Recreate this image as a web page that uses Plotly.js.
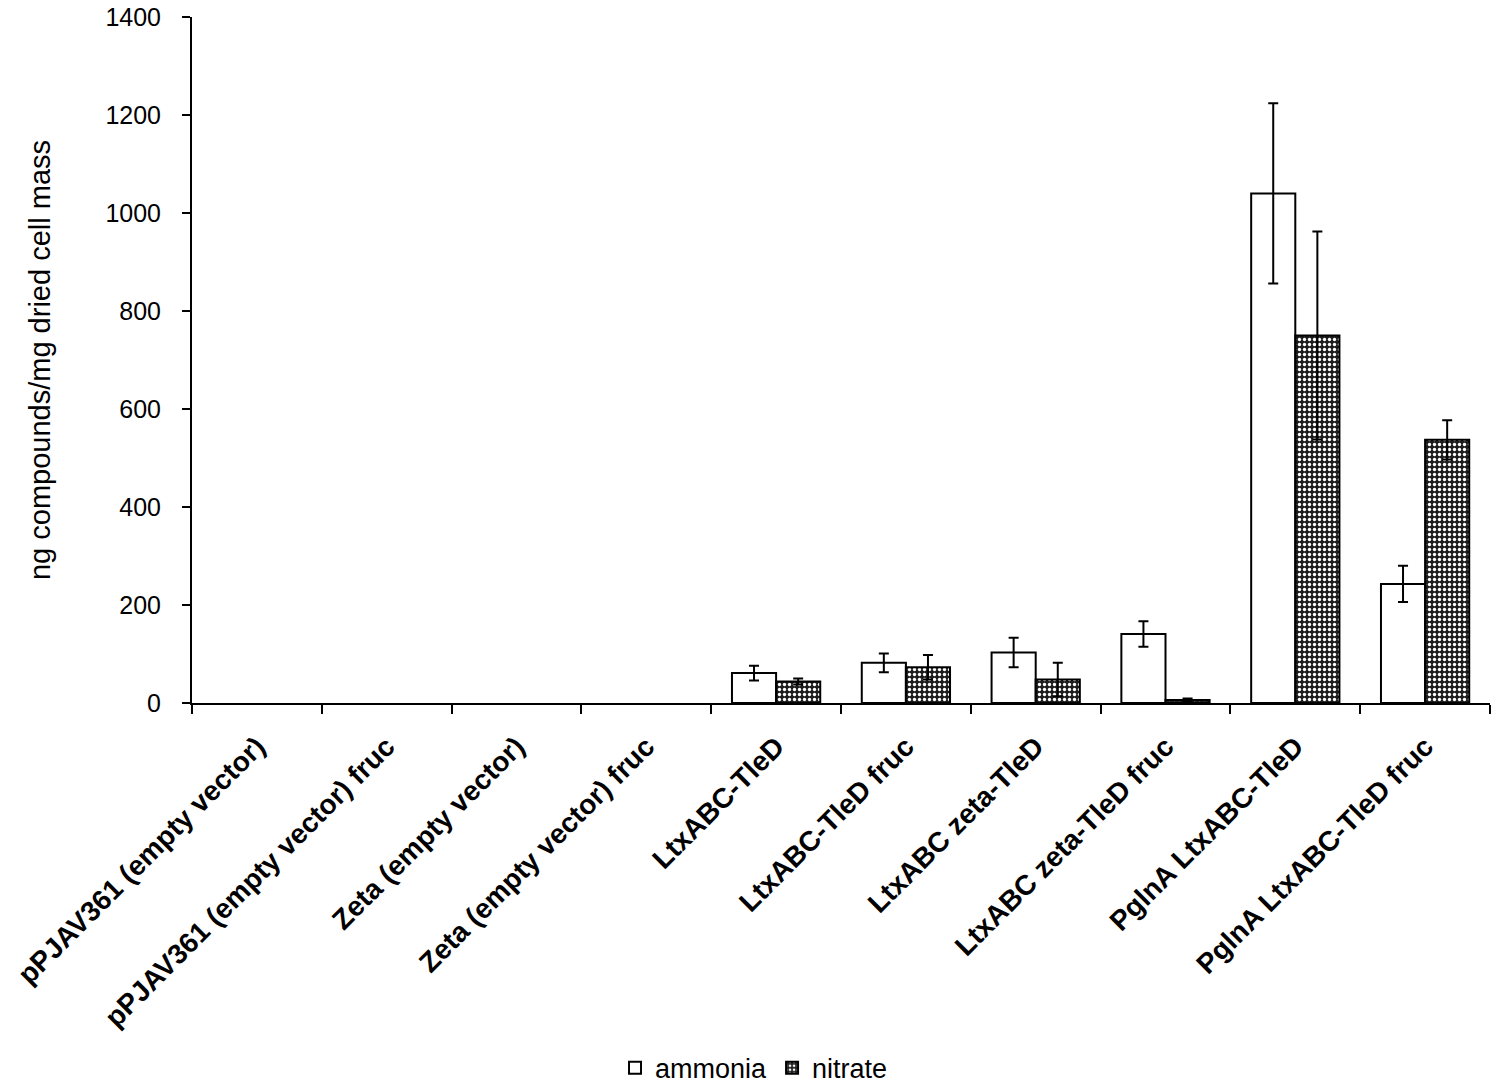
<!DOCTYPE html>
<html>
<head>
<meta charset="utf-8">
<script src="https://cdn.plot.ly/plotly-3.0.1.min.js"></script>
<style>html,body{margin:0;padding:0;background:#fff;}#chart{width:1500px;height:1090px;}</style>
</head>
<body>
<div id="chart"></div>
<script>
const categories = [
  "pPJAV361 (empty vector)",
  "pPJAV361 (empty vector) fruc",
  "Zeta (empty vector)",
  "Zeta (empty vector) fruc",
  "LtxABC-TleD",
  "LtxABC-TleD fruc",
  "LtxABC zeta-TleD",
  "LtxABC zeta-TleD fruc",
  "PglnA LtxABC-TleD",
  "PglnA LtxABC-TleD fruc"
];
const ammonia = [null, null, null, null, 61, 82, 103, 141, 1040, 243];
const ammoniaErr = [null, null, null, null, 15, 19, 30, 26, 184, 37];
const nitrate = [null, null, null, null, 44, 73, 48, 6, 750, 537];
const nitrateErr = [null, null, null, null, 6, 25, 34, 3, 212, 40];
const yTicks = [0, 200, 400, 600, 800, 1000, 1200, 1400];

const FONT = "Liberation Sans, Arial, sans-serif";

const traces = [
  {
    type: "bar", name: "ammonia", x: categories, y: ammonia,
    marker: {color: "#ffffff", line: {color: "#000000", width: 2}},
    error_y: {type: "data", array: ammoniaErr, visible: true, color: "#000000", thickness: 2, width: 5}
  },
  {
    type: "bar", name: "nitrate", x: categories, y: nitrate,
    marker: {color: "#1e1e1e", line: {color: "#000000", width: 2},
      pattern: {shape: ".", fgcolor: "#ffffff", bgcolor: "#1e1e1e", size: 5, solidity: 0.35}},
    error_y: {type: "data", array: nitrateErr, visible: true, color: "#000000", thickness: 2, width: 5}
  }
];

const layout = {
  width: 1500, height: 1090,
  margin: {l: 192, r: 10, t: 17, b: 387},
  paper_bgcolor: "#ffffff", plot_bgcolor: "#ffffff",
  font: {family: FONT, color: "#000000", size: 22},
  barmode: "group", bargap: 0.32, bargroupgap: 0,
  showlegend: true,
  legend: {orientation: "h", xref: "paper", x: 0.433, xanchor: "center",
    yref: "container", y: 0.02, yanchor: "middle",
    font: {family: FONT, size: 27, color: "#000"}, itemwidth: 30, traceorder: "normal"},
  xaxis: {
    type: "category", showline: true, linecolor: "#000", linewidth: 2,
    ticks: "outside", ticklen: 9, tickwidth: 2, tickcolor: "#000", tickson: "boundaries",
    tickangle: -45, ticklabelstandoff: 14,
    tickfont: {family: FONT, size: 28, color: "#000", weight: "bold"},
    showgrid: false, zeroline: false, automargin: false
  },
  yaxis: {
    range: [0, 1400], tickvals: yTicks, ticktext: yTicks.map(String),
    showline: true, linecolor: "#000", linewidth: 2,
    ticks: "outside", ticklen: 8, tickwidth: 2, tickcolor: "#000",
    tickfont: {family: FONT, size: 25, color: "#000"},
    ticklabelstandoff: 16,
    showgrid: false, zeroline: false, automargin: false,
    title: {text: "ng compounds/mg dried cell mass", font: {family: FONT, size: 29, color: "#000"}, standoff: 46}
  }
};

Plotly.newPlot("chart", traces, layout, {displayModeBar: false, staticPlot: true});
</script>
</body>
</html>
